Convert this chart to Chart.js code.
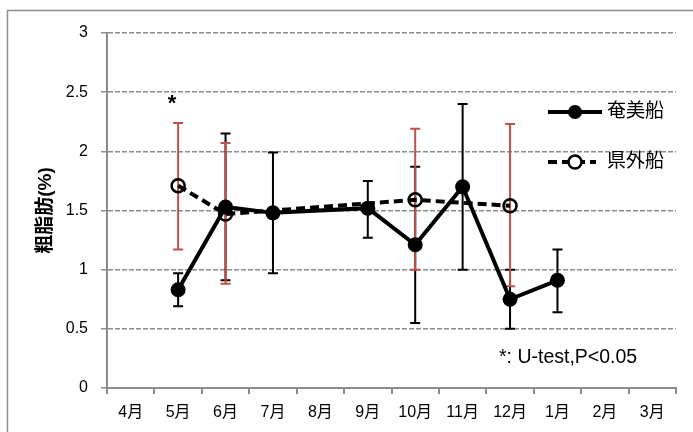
<!DOCTYPE html>
<html>
<head>
<meta charset="utf-8">
<script src="https://cdn.jsdelivr.net/npm/chart.js@4/dist/chart.umd.min.js"></script>
<style>
html,body{margin:0;padding:0;background:#fff;}
#wrap{width:693px;height:432px;position:relative;}
</style>
</head>
<body>
<div id="wrap"><canvas id="c" width="693" height="432"></canvas></div>
<script>
const months = ['4月','5月','6月','7月','8月','9月','10月','11月','12月','1月','2月','3月'];
const seriesNames = ['奄美船','県外船'];
const amami     = [null,0.83,1.53,1.48,null,1.52,1.21,1.70,0.75,0.91,null,null];
const amamiHigh = [null,0.97,2.15,1.99,null,1.75,1.87,2.40,1.00,1.17,null,null];
const amamiLow  = [null,0.69,0.91,0.97,null,1.27,0.55,1.00,0.50,0.64,null,null];
const kengai     = [null,1.71,1.47,null,null,null,1.59,null,1.54,null,null,null];
const kengaiHigh = [null,2.24,2.07,null,null,null,2.19,null,2.23,null,null,null];
const kengaiLow  = [null,1.17,0.88,null,null,null,1.00,null,0.86,null,null,null];
const yTitle = '粗脂肪(%)';
const starNote = '*';
const testNote = '*: U-test,P<0.05';

const FONT = "'Liberation Sans','Noto Sans CJK JP',sans-serif";
const GRAY = '#8c8c8c';
const RED = '#c0504d';

const errorBars = [
  {high: amamiHigh, low: amamiLow, color: '#000'},
  {high: kengaiHigh, low: kengaiLow, color: RED}
];

const extras = {
  id: 'extras',
  beforeDraw(chart) {
    const ctx = chart.ctx;
    ctx.save();
    ctx.fillStyle = '#fff';
    ctx.fillRect(0, 0, chart.width, chart.height);
    ctx.strokeStyle = GRAY;
    ctx.lineWidth = 1.5;
    ctx.strokeRect(7.5, 10.5, chart.width + 10, chart.height + 10);
    ctx.restore();
  },
  beforeDatasetsDraw(chart) {
    const ctx = chart.ctx;
    const xs = chart.scales.x, ys = chart.scales.y;
    ctx.save();
    errorBars.forEach(eb => {
      ctx.strokeStyle = eb.color;
      ctx.lineWidth = 2;
      eb.high.forEach((h, i) => {
        if (h == null) return;
        const x = xs.getPixelForValue(i);
        const yh = ys.getPixelForValue(h);
        const yl = ys.getPixelForValue(eb.low[i]);
        ctx.beginPath();
        ctx.moveTo(x, yh); ctx.lineTo(x, yl);
        ctx.moveTo(x - 5, yh); ctx.lineTo(x + 5, yh);
        ctx.moveTo(x - 5, yl); ctx.lineTo(x + 5, yl);
        ctx.stroke();
      });
    });
    ctx.restore();
  },
  afterDraw(chart) {
    const ctx = chart.ctx;
    const xs = chart.scales.x;
    ctx.save();
    // legend
    const lx1 = 548, lx2 = 602, mx = 575;
    const rows = [
      {y: 112, dash: [], filled: true},
      {y: 162, dash: [9, 5], filled: false}
    ];
    rows.forEach((r, i) => {
      ctx.strokeStyle = '#000';
      ctx.lineWidth = 4;
      ctx.setLineDash(r.dash);
      ctx.beginPath();
      ctx.moveTo(lx1, r.y); ctx.lineTo(r.filled ? lx2 : 596, r.y);
      ctx.stroke();
      ctx.setLineDash([]);
      ctx.beginPath();
      ctx.arc(mx, r.y, r.filled ? 7 : 6.5, 0, Math.PI * 2);
      if (r.filled) { ctx.fillStyle = '#000'; ctx.fill(); }
      else { ctx.fillStyle = '#fff'; ctx.fill(); ctx.lineWidth = 2.5; ctx.stroke(); }
      ctx.fillStyle = '#000';
      ctx.font = "19px " + FONT;
      ctx.textAlign = 'left';
      ctx.textBaseline = 'middle';
      ctx.fillText(seriesNames[i], 607, r.y);
    });
    // annotations
    ctx.fillStyle = '#000';
    ctx.font = "bold 22px " + FONT;
    ctx.textAlign = 'center';
    ctx.textBaseline = 'middle';
    ctx.fillText(starNote, xs.getPixelForValue(1) - 6, 104);
    ctx.font = "19.5px " + FONT;
    ctx.textAlign = 'left';
    ctx.fillText(testNote, 499, 358);
    ctx.restore();
  }
};

new Chart(document.getElementById('c'), {
  type: 'line',
  data: {
    labels: months,
    datasets: [
      {
        label: seriesNames[0],
        data: amami,
        borderColor: '#000',
        borderWidth: 4,
        pointRadius: 7.5,
        pointBackgroundColor: '#000',
        pointBorderColor: '#000',
        pointBorderWidth: 0,
        spanGaps: true,
        tension: 0
      },
      {
        label: seriesNames[1],
        data: kengai,
        borderColor: '#000',
        borderWidth: 4,
        borderDash: [9, 5],
        pointRadius: 6.5,
        pointBackgroundColor: 'rgba(0,0,0,0)',
        pointBorderColor: '#000',
        pointBorderWidth: 2.5,
        spanGaps: true,
        tension: 0
      }
    ]
  },
  options: {
    responsive: false,
    animation: false,
    events: [],
    layout: {padding: {left: 0, right: 17, top: 33, bottom: 0}},
    plugins: {legend: {display: false}, tooltip: {enabled: false}},
    scales: {
      x: {
        offset: true,
        afterFit(s) { s.height = 44; },
        grid: {offset: true, drawOnChartArea: false, drawTicks: true, tickLength: 6, color: GRAY, lineWidth: 2},
        border: {display: true, color: GRAY, width: 2},
        ticks: {color: '#000', font: {size: 16, family: FONT}, padding: 9, maxRotation: 0, autoSkip: false}
      },
      y: {
        min: 0, max: 3,
        afterFit(s) { s.width = 107; },
        ticks: {stepSize: 0.5, color: '#000', font: {size: 16, family: FONT}, padding: 13,
                callback: v => String(Math.round(v * 10) / 10)},
        grid: {color: GRAY, lineWidth: 1.5, borderDash: [5, 2], tickLength: 6, tickColor: GRAY, tickBorderDash: [], tickWidth: 1.5},
        border: {display: true, color: GRAY, width: 2, dash: [5, 2]},
        title: {display: true, text: yTitle, color: '#000', font: {size: 19, weight: 'bold', family: FONT}, padding: {top: 34, bottom: 0}}
      }
    }
  },
  plugins: [extras]
});
</script>
</body>
</html>
